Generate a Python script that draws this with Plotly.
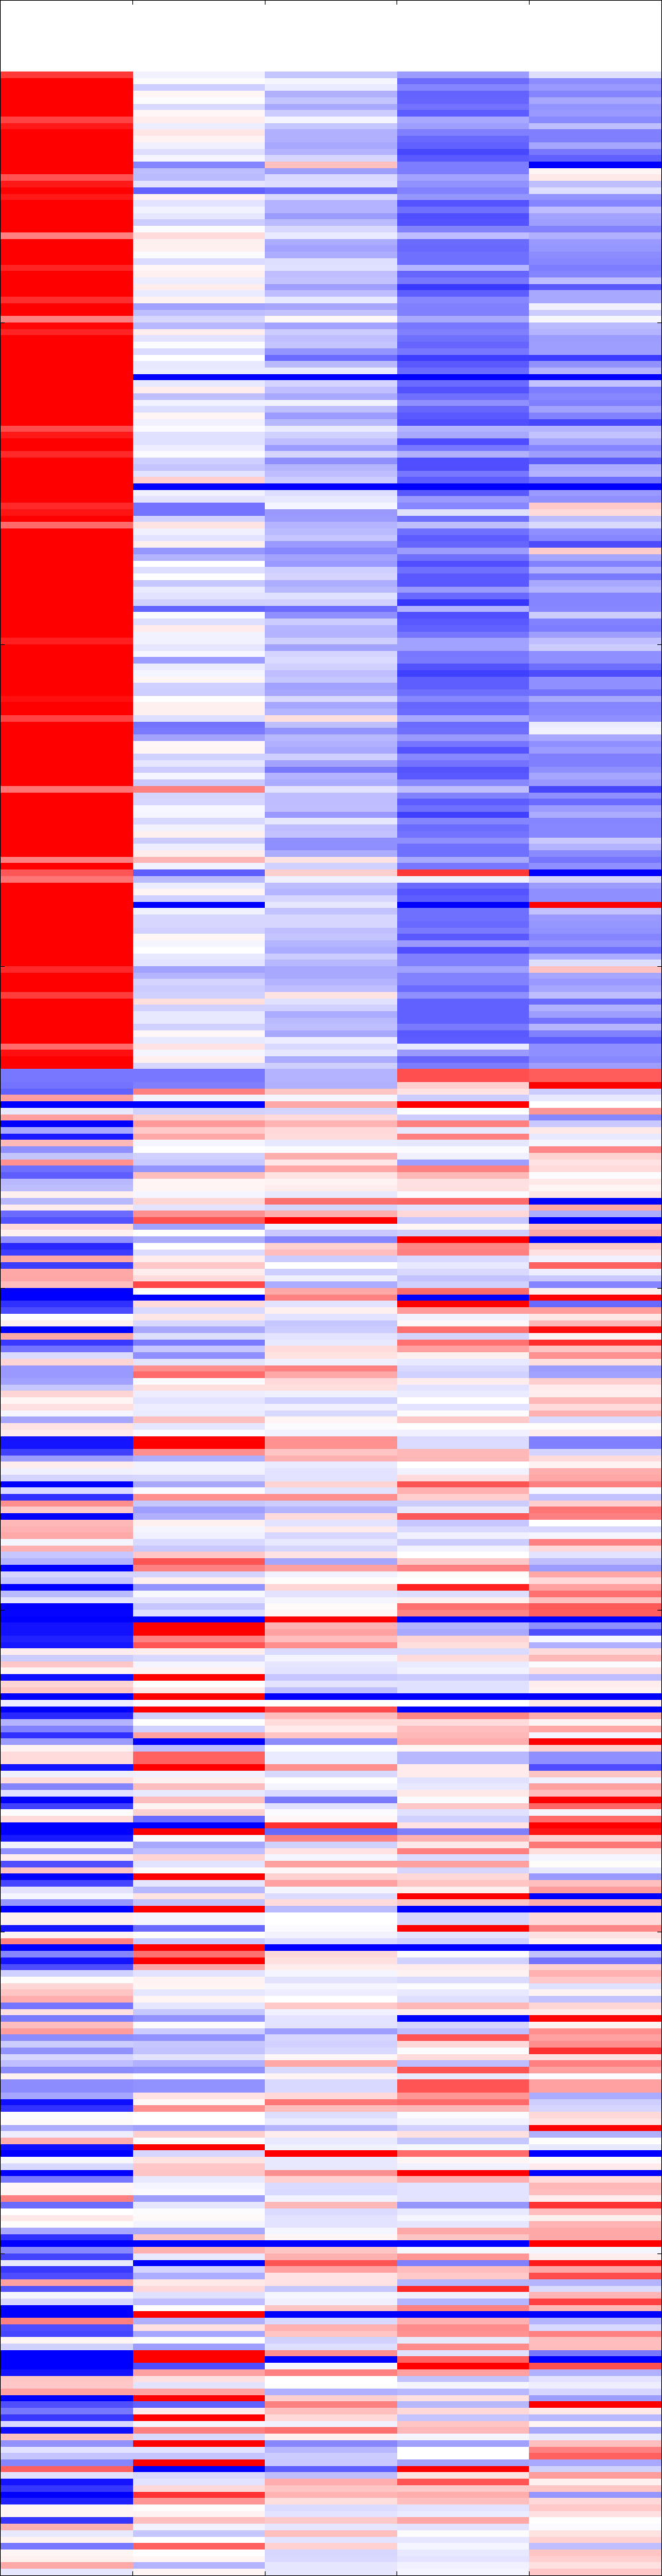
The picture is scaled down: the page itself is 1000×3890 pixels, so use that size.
import plotly.graph_objects as go

# Values in percent of the colour range (-100 blue .. 100 red)
columns = ["A", "B", "C", "D", "E"]
x_ticks = [1, 2, 3, 4]
y_ticks = [50, 100, 150, 200, 250, 300, 350]
blank_rows_on_top = 11

rows_a = [
[78,-5,-23,-39,-13],[100,-1,-4,-58,-45],[100,-19,-8,-48,-40],[100,4,-31,-61,-48],[100,-1,-23,-60,-34],
[100,-15,-34,-55,-42],[100,3,-20,-64,-40],[74,7,-4,-34,-46],[90,-7,-22,-38,-25],[100,10,-31,-50,-50],
[100,5,-31,-59,-50],[100,-6,-34,-62,-35],[100,-13,-30,-72,-53],[100,-4,-16,-65,-62],[100,-48,25,-51,-100],
[100,-26,-38,-51,4],[68,-27,-15,-36,9],[90,-11,-13,-43,-25],[100,-61,-56,-49,-13],[90,5,-15,-41,-42],
[100,-11,-30,-67,-48],[100,-5,-30,-56,-26],[100,-10,-39,-69,-36],
]
rows_b = [
[100,-20,-27,-67,-38],[100,-1,-15,-49,-49],[50,14,-8,-26,-31],[100,6,-32,-58,-40],[100,6,-36,-59,-41],
[100,-2,-32,-56,-45],[100,-14,-13,-56,-47],[86,3,-12,-29,-51],[100,6,-25,-60,-48],[100,-7,-24,-53,-26],
[100,7,-38,-78,-65],[100,-8,-26,-63,-34],[82,5,-9,-47,-34],[100,-37,-35,-50,-6],[100,-26,-24,-50,-20],
[50,-16,3,-34,-3],[98,-28,-36,-53,-27],[86,7,-20,-50,-30],[100,-11,-25,-56,-39],[100,-1,-23,-60,-38],
[100,-14,-42,-53,-38],[100,0,-58,-76,-77],[100,-9,-27,-65,-43],[100,-8,-8,-58,-30],[100,-100,-100,-100,-100],
[100,-9,-17,-58,-24],[100,7,-25,-68,-51],[100,-25,-34,-57,-47],[100,-5,-5,-44,-50],[100,-13,-25,-60,-37],
[100,4,-39,-65,-49],[100,-6,-28,-69,-72],[70,-2,-8,-30,-30],[90,-12,-18,-34,-24],
]
rows_c = [
[100,-12,-25,-70,-35],[100,-7,-39,-53,-48],[84,-2,-17,-31,-38],[100,-19,-44,-69,-63],[100,-23,-29,-69,-33],
[100,-11,-26,-53,-30],[100,19,-20,-64,-56],[100,-100,-100,-100,-100],[100,-5,-13,-65,-40],[100,-11,-9,-40,-44],
[84,-55,-4,-47,21],[92,-55,-40,-12,14],[100,-18,-39,-57,-26],[58,11,-30,-25,-15],[100,-6,-27,-56,-44],
[100,-11,-22,-64,-47],[100,6,-40,-60,-70],[100,-41,-47,-39,20],[100,-30,-36,-56,-35],[100,0,-40,-69,-49],
[100,-13,-19,-56,-31],[100,0,-17,-65,-52],[100,-22,-32,-65,-34],[100,-8,-28,-40,-29],[100,-11,-12,-59,-48],
[100,-18,-18,-79,-48],[100,-61,-58,-30,-47],[100,-2,-44,-69,-20],[100,-13,-20,-65,-49],[100,8,-29,-62,-51],
[100,-5,-30,-54,-38],[88,-5,-19,-37,-25],[100,-10,-37,-37,-20],
]
rows_d = [
[100,-3,-17,-53,-44],[100,-39,-14,-52,-44],[100,-8,-18,-67,-57],[100,-4,-26,-75,-70],[100,4,-22,-63,-44],
[100,-18,-37,-63,-44],[100,-19,-35,-57,-55],[94,0,-15,-47,-34],[100,6,-35,-60,-48],[100,6,-29,-58,-47],
[74,-13,13,-34,-44],[100,-55,-25,-58,-8],[100,-52,-42,-56,-5],[100,-36,-28,-40,-34],[100,3,-31,-54,-44],
[100,4,-34,-67,-39],[100,-18,-19,-47,-50],[100,-10,-36,-55,-50],[100,-20,-52,-67,-44],[100,-4,-30,-65,-35],
[100,-21,-33,-47,-40],[54,50,-11,-25,-72],[100,-17,-26,-49,-44],[100,-16,-26,-64,-58],[100,-3,-25,-56,-39],
[100,-4,-40,-75,-33],[100,-15,-10,-48,-48],[100,-5,-26,-58,-47],[100,6,-24,-55,-47],[100,-20,-44,-44,-21],
[100,-7,-44,-56,-30],[100,7,-32,-56,-46],[50,29,11,-34,-54],[100,-5,-18,-53,-44],
]
rows_e = [
[66,-63,19,78,-100],[54,-27,-6,-5,-17],[100,-7,-26,-58,-39],[100,4,-29,-67,-44],[100,-18,-16,-63,-44],
[100,-100,-10,-100,100],[100,-5,-24,-56,-24],[100,-16,-16,-56,-40],[100,-16,-16,-59,-41],[100,-18,-25,-52,-43],
[100,4,-23,-65,-48],[100,-4,-29,-40,-43],[100,0,-33,-69,-56],[100,-9,-20,-50,-33],[100,-11,-28,-50,-13],
[84,-37,-34,-37,24],[100,-29,-34,-49,-35],[100,-17,-30,-49,-40],[100,-20,-25,-58,-35],[76,-18,11,-44,-26],
[100,13,-12,-62,-58],[100,-18,-18,-62,-31],[100,-9,-33,-62,-38],[100,-9,-27,-62,-55],[100,-18,-25,-52,-29],
[100,3,-34,-65,-50],[100,-9,-7,-64,-63],[58,11,-15,-9,-44],[94,-4,-10,-40,-44],[100,6,-33,-60,-47],
[100,-16,-19,-51,-38],[-53,-53,-30,69,64],[-53,-53,-30,69,64],[-55,-50,-31,19,100],
]
rows_f = [
[-62,50,23,11,-20],[38,-5,-4,-20,-9],[-100,-100,34,100,0],[-9,-18,-17,0,41],[38,18,14,-20,-47],
[-100,40,30,50,-21],[-34,21,15,-9,9],[-90,34,14,50,-9],[28,-4,-9,-10,-4],[-44,0,-1,-2,47],
[-23,-18,32,-6,18],[43,-21,10,-38,11],[-56,-42,35,50,14],[-63,26,11,28,-1],[-28,4,5,12,9],
[-26,4,7,12,4],[6,-4,-9,-2,10],[-28,16,56,58,-100],[7,-11,-17,-11,34],[-58,44,32,15,-32],
[-68,67,100,-22,-100],[15,-37,-5,4,26],[6,0,-21,-18,34],[-43,-33,-48,100,-100],[-84,0,18,48,21],
[-76,-14,26,50,12],[35,7,-20,-15,-6],[-76,22,0,-9,62],[34,7,-19,-15,-7],[35,14,-6,-24,-21],
[26,72,-33,-18,-48],[-100,0,34,58,6],[-100,-100,50,-100,100],
]
rows_g = [
[-81,14,-11,100,-59],[-71,-15,6,39,39],[-1,10,-11,-5,10],[6,-15,-22,3,28],[-100,-34,-20,56,95],
[35,-13,-11,-17,5],[-78,-52,-9,56,82],[-55,-22,14,37,23],[-14,-44,11,6,43],[17,-11,-6,-9,13],
[-40,44,50,-15,-39],[-40,58,34,-18,-37],[-37,-2,15,7,19],[-22,13,13,-11,8],[17,-7,-6,-8,7],
[4,-11,-18,0,28],[12,-7,-6,-11,14],[-4,-8,-15,-1,31],[-35,25,4,21,-14],[11,-10,-2,0,1],
[8,-2,-5,-6,7],[-92,100,43,-14,-50],[-92,100,43,-14,-50],[-75,44,23,28,-17],[-39,-32,31,28,14],
[7,-5,-8,0,5],[-6,-5,-11,-5,32],[-17,-16,-11,14,35],[-100,-34,17,67,50],[-14,-2,-11,31,-3],
[-81,44,44,19,-24],[44,-22,-20,-20,19],[21,-38,-29,-9,54],[-100,-31,14,65,50],
]
rows_h = [
[28,6,-11,-22,0],[31,-4,8,-15,-16],[34,-6,-16,-6,-4],[-4,-15,-9,-20,50],[31,-21,-16,-5,15],
[-22,22,11,0,-11],[-30,67,-35,21,-25],[-100,50,37,50,-39],[-17,-17,-5,2,35],[-23,6,1,0,15],
[-100,-42,16,87,37],[-27,-3,-11,-13,56],[-11,-11,-4,6,25],[-100,-22,2,56,65],[-98,-13,4,48,63],
[-100,-100,100,-100,-100],[-93,100,31,-30,-44],[-93,100,37,-34,-69],[-87,50,26,17,-3],[-91,67,44,13,-31],
[7,7,-14,-14,14],[-20,-15,-4,14,28],[22,-4,-10,-8,-1],[4,5,-11,-5,12],[-94,100,-22,-20,-26],
[17,0,-11,-12,7],[23,9,-25,-12,5],[-100,100,-100,-100,-100],[-7,-2,1,0,9],[-100,100,70,-100,-100],
[-84,-18,26,48,32],[-30,0,14,14,5],[-49,-18,8,26,35],[-81,37,23,28,-4],
]
rows_i = [
[-39,-100,-45,32,100],[5,-26,0,4,18],[14,62,-8,-28,-44],[14,62,-8,-28,-44],[-92,100,44,8,-70],
[-6,-6,-15,8,23],[14,6,0,-12,-6],[-48,26,-4,-9,37],[-12,-9,-14,9,26],[-100,26,-52,-1,100],
[-75,5,-12,22,60],[-1,18,-2,-12,-4],[14,-58,3,-18,58],[-100,-100,81,11,100],[-100,100,-59,-50,92],
[-90,-2,50,31,18],[-6,-34,-18,9,53],[-43,-25,11,50,13],[7,17,-4,-14,-4],[-69,-11,37,37,1],
[23,2,3,-16,-9],[-100,100,18,15,-40],[-73,-10,37,23,25],[-11,-28,-4,6,39],[-4,11,-14,100,-100],
[-41,-24,14,23,32],[-100,100,-27,-100,-100],[6,-4,0,-16,15],[6,-4,0,-16,15],[-92,-59,-2,100,47],
[5,1,-5,-11,12],[50,-21,-14,-18,6],[-100,100,-100,-100,-100],
]
rows_j = [
[-48,56,15,-2,-24],[-92,100,12,-18,-55],[-70,35,7,8,18],[-18,-11,-4,5,31],[1,5,-11,-14,22],
[16,4,-4,-1,-12],[23,-10,-7,-9,5],[32,4,0,-13,-24],[-54,-10,21,28,16],[12,-22,-6,7,8],
[-52,-43,-11,-100,100],[26,-2,-11,-17,5],[39,-20,-38,-25,44],[-45,-43,-16,67,37],[-20,-22,-18,15,44],
[-43,-24,-15,-1,81],[-16,-11,3,14,12],[-25,-31,34,-26,50],[-45,-43,-15,67,37],[6,-1,5,-9,-2],
[-45,-43,-15,67,37],[-45,-43,-15,67,37],[-35,11,15,41,-33],[-94,3,54,58,-19],[-81,44,26,28,-16],
[-1,0,-13,-2,15],[2,0,-8,-5,11],[-33,-37,-29,-18,100],[-7,19,7,12,-31],[32,-1,-9,-22,0],
[-94,100,-5,-3,-9],[-100,-16,100,58,-100],[-3,11,-9,4,-1],[-15,22,-9,-5,8],
]
rows_k = [
[-100,23,44,100,-100],[-53,-9,18,32,14],[3,-4,-14,-11,28],[4,-2,-15,-11,26],[50,-38,-5,-11,7],
[-58,-10,28,-41,80],[0,-1,-14,-9,26],[9,2,-11,-4,6],[1,-4,-11,-10,30],[-34,-34,-4,34,34],
[-81,23,4,23,34],[-100,-100,-100,-100,100],[-47,31,23,-3,-4],[-73,-9,31,41,7],[-9,-100,67,-50,90],
[-78,-17,37,26,34],[-70,-32,11,21,70],[37,9,11,-29,-29],[-67,15,-22,84,-14],[-4,-12,-4,-6,29],
[-16,-25,-6,-29,75],[-100,0,23,50,28],[-100,100,-100,-100,-100],[50,-31,-15,31,-29],[-70,12,31,45,-15],
[-73,-35,23,43,50],[4,0,-18,-9,26],[-18,-38,-13,45,26],[-100,100,44,-12,-53],[-100,100,-100,62,-100],
[-100,-70,-4,100,69],[-93,37,50,37,-31],[23,12,0,-24,-11],
]
rows_l = [
[22,-11,0,-4,-7],[37,37,-31,-28,-16],[-100,100,19,12,-38],[-69,-62,50,-28,100],[-53,8,25,15,9],
[-78,100,15,-23,-28],[-15,-4,-6,23,4],[-94,50,56,28,-34],[25,-15,6,-4,-9],[-43,100,-47,-37,25],
[-11,-11,-28,0,50],[-23,-23,-20,0,62],[-48,100,-21,-36,-34],[62,-100,-63,100,-18],[-11,-15,-25,11,39],
[-92,-11,32,67,6],[-79,15,23,21,23],[-100,80,30,32,-41],[-88,41,13,25,15],[4,1,-14,-11,21],
[4,5,-11,-8,12],[-79,25,21,35,0],[31,-5,-10,-11,-2],[-9,-22,25,-1,11],[5,0,-11,-10,18],
[-53,62,18,-4,-25],[4,0,-16,-9,23],[6,4,-15,-11,19],[34,-30,-10,-6,12],[-10,4,-10,-4,22],
]

rows = (rows_a + rows_b + rows_c + rows_d + rows_e + rows_f
        + rows_g + rows_h + rows_i + rows_j + rows_k + rows_l)
assert all(len(r) == len(columns) for r in rows)

fig = go.Figure(go.Heatmap(
    z=[[v / 100 for v in r] for r in rows],
    x=[i + 0.5 for i in range(len(columns))],
    y=[i + blank_rows_on_top + 0.5 for i in range(len(rows))],
    zmin=-1, zmax=1,
    colorscale=[[0, "#0000ff"], [0.5, "#ffffff"], [1, "#ff0000"]],
    showscale=False,
    hoverinfo="skip",
))

fig.update_layout(
    width=1000, height=3890,
    margin=dict(l=1, r=1, t=1, b=1, pad=0),
    paper_bgcolor="white", plot_bgcolor="white",
    showlegend=False,
)
axis_style = dict(
    showgrid=False, zeroline=False, showticklabels=False,
    showline=True, linecolor="black", linewidth=1, mirror="ticks",
    ticks="inside", ticklen=6, tickwidth=1, tickcolor="black",
)
fig.update_xaxes(range=[0, len(columns)], tickmode="array", tickvals=x_ticks, **axis_style)
fig.update_yaxes(range=[400, 0], tickmode="array", tickvals=y_ticks, **axis_style)

fig.write_html(
    "out.html",
    config=dict(displayModeBar=False, responsive=False),
    post_script="document.body.style.margin='0';document.body.style.overflow='hidden';",
)
print(len(rows))
